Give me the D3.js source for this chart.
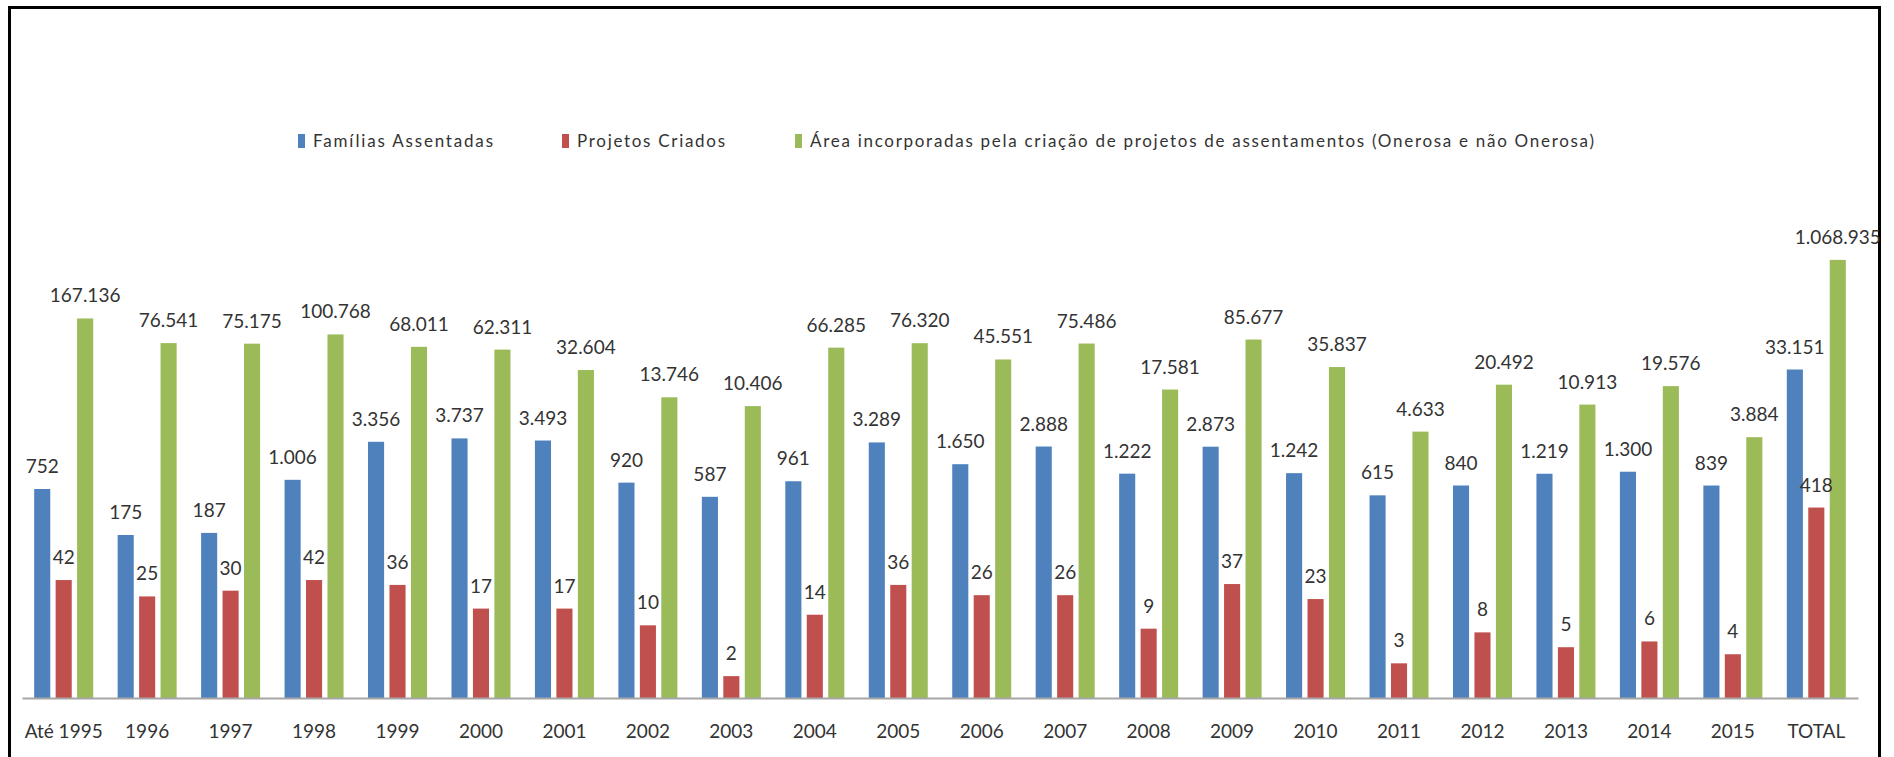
<!DOCTYPE html>
<html>
<head>
<meta charset="utf-8">
<script src="https://cdn.jsdelivr.net/npm/d3@7"></script>
<style>
  body { margin: 0; background: #fff; }
  text { font-family: Lato, "Open Sans", sans-serif; fill: #333; }
</style>
</head>
<body>
<svg></svg>
<script>
// Data: categories and the three series
const categories = ["Até 1995", "1996", "1997", "1998", "1999", "2000", "2001", "2002", "2003", "2004", "2005",
    "2006", "2007", "2008", "2009", "2010", "2011", "2012", "2013", "2014", "2015", "TOTAL"];
const familias = [752, 175, 187, 1006, 3356, 3737, 3493, 920, 587, 961, 3289,
    1650, 2888, 1222, 2873, 1242, 615, 840, 1219, 1300, 839, 33151];
const projetos = [42, 25, 30, 42, 36, 17, 17, 10, 2, 14, 36,
    26, 26, 9, 37, 23, 3, 8, 5, 6, 4, 418];
const area = [167136, 76541, 75175, 100768, 68011, 62311, 32604, 13746, 10406, 66285, 76320,
    45551, 75486, 17581, 85677, 35837, 4633, 20492, 10913, 19576, 3884, 1068935];

const seriesNames = ["Famílias Assentadas", "Projetos Criados",
    "Área incorporadas pela criação de projetos de assentamentos (Onerosa e não Onerosa)"];
const colors = ["#4f81bd", "#c0504d", "#9bbb59"];

const W = 1894, H = 757;
const svg = d3.select("svg").attr("width", W).attr("height", H);

// frame
svg.append("rect").attr("x", 9.5).attr("y", 7.5).attr("width", 1870).attr("height", 800)
    .attr("fill", "none").attr("stroke", "#000").attr("stroke-width", 3);

const rows = categories.map((c, i) => ({ cat: c, values: [familias[i], projetos[i], area[i]] }));

// X: groups, then bars inside a group
const x0 = d3.scaleBand().domain(categories).range([22, 1858]).paddingInner(0.293).paddingOuter(0.146);
const x1 = d3.scaleBand().domain([0, 1, 2]).range([0, x0.bandwidth()]).paddingInner(0.25);

// Y: log scale (the bars in the original are drawn on a log axis)
const y = d3.scaleLog().domain([1, 1e6]).range([698, 262]);

const fmt = d3.formatLocale({ decimal: ",", thousands: ".", grouping: [3], currency: ["R$", ""] }).format(",d");

const groups = svg.selectAll(".grp").data(rows).enter().append("g")
    .attr("class", "grp")
    .attr("transform", d => `translate(${x0(d.cat)},0)`);

groups.selectAll("rect").data(d => d.values).enter().append("rect")
    .attr("x", (d, i) => x1(i))
    .attr("y", d => y(d))
    .attr("width", x1.bandwidth())
    .attr("height", d => y(1) - y(d))
    .attr("fill", (d, i) => colors[i]);

groups.selectAll(".label").data(d => d.values).enter().append("text")
    .attr("class", "label")
    .attr("x", (d, i) => x1(i) + x1.bandwidth() / 2)
    .attr("y", d => y(d) - 16)
    .attr("text-anchor", "middle")
    .style("font-size", "19px")
    .text(d => fmt(d));

// X axis
const xAxis = svg.append("g")
    .attr("transform", `translate(0,${y(1)})`)
    .call(d3.axisBottom(x0).tickSize(0));
xAxis.select(".domain").attr("stroke", "#a6a6a6").attr("stroke-width", 2);
xAxis.selectAll("text")
    .attr("y", 40).attr("dy", 0)
    .style("font-size", "19px")
    .style("font-family", "Lato, 'Open Sans', sans-serif")
    .attr("fill", "#333");

// Legend (text stretched to the widths of the original)
const legendX = [298, 562, 795];
const legendW = [180, 148, 784];
const legend = svg.append("g").attr("transform", "translate(0,141)");
seriesNames.forEach((name, i) => {
    legend.append("rect").attr("x", legendX[i]).attr("y", -7).attr("width", 7).attr("height", 14).attr("fill", colors[i]);
    legend.append("text").attr("x", legendX[i] + 15).attr("y", 6).style("font-size", "17px")
        .attr("textLength", legendW[i]).attr("lengthAdjust", "spacing")
        .text(name);
});
</script>
</body>
</html>
